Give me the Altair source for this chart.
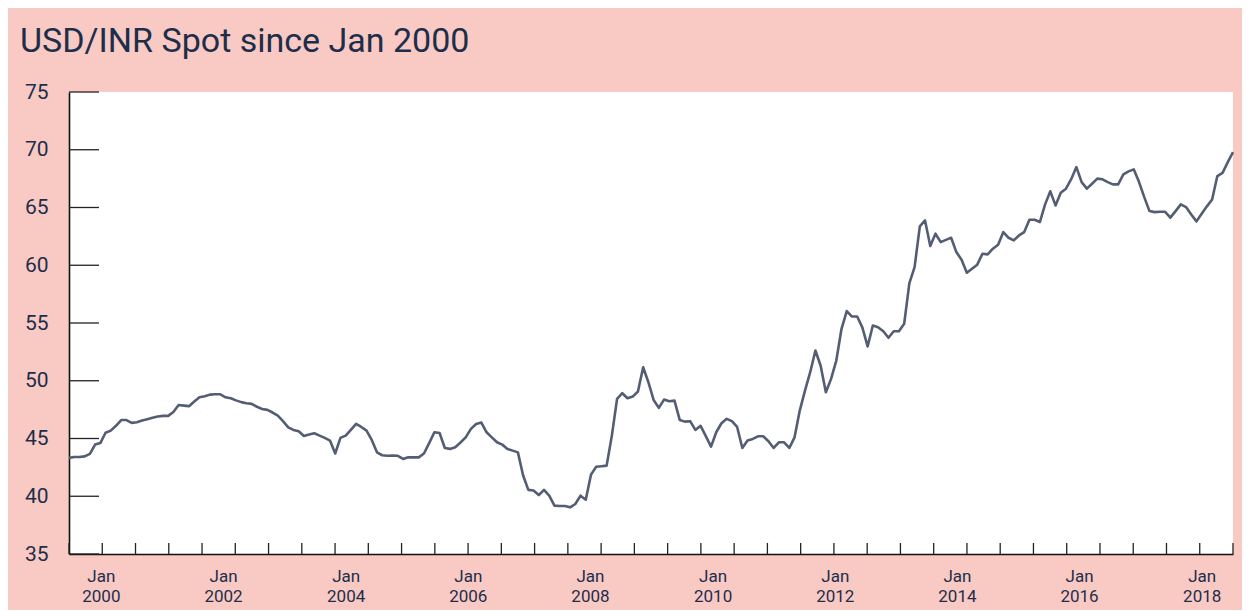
import altair as alt
import pandas as pd

# Monthly USD/INR spot, Jan 2000 .. Aug 2018
usd_inr = [
    43.32, 43.40, 43.40, 43.45, 43.67, 44.47, 44.60, 45.50, 45.68, 46.10, 46.60, 46.60,
    46.35, 46.40, 46.55, 46.67, 46.80, 46.90, 46.96, 46.96, 47.30, 47.90, 47.85, 47.80,
    48.20, 48.57, 48.65, 48.80, 48.83, 48.83, 48.57, 48.48, 48.30, 48.15, 48.05, 48.00,
    47.75, 47.56, 47.48, 47.25, 46.98, 46.50, 45.97, 45.74, 45.62, 45.22, 45.35, 45.45,
    45.25, 45.05, 44.82, 43.70, 45.05, 45.25, 45.75, 46.26, 46.00, 45.68, 44.88, 43.80,
    43.55, 43.50, 43.52, 43.50, 43.23, 43.37, 43.37, 43.37, 43.70, 44.60, 45.54, 45.48,
    44.18, 44.10, 44.24, 44.65, 45.10, 45.83, 46.26, 46.38, 45.54, 45.10, 44.67, 44.47,
    44.10, 43.95, 43.80, 41.80, 40.55, 40.50, 40.10, 40.55, 40.05, 39.19, 39.15, 39.15,
    39.04, 39.33, 40.05, 39.70, 41.87, 42.56, 42.60, 42.65, 45.25, 48.43, 48.92, 48.48,
    48.63, 49.07, 51.17, 49.87, 48.34, 47.65, 48.37, 48.23, 48.28, 46.61, 46.46, 46.50,
    45.74, 46.10, 45.20, 44.30, 45.54, 46.32, 46.70, 46.50, 46.00, 44.18, 44.82, 44.96,
    45.19, 45.19, 44.76, 44.18, 44.67, 44.67, 44.18, 45.10, 47.42, 49.15, 50.74, 52.62,
    51.30, 49.00, 50.16, 51.75, 54.50, 56.03, 55.56, 55.56, 54.60, 52.97, 54.78, 54.64,
    54.29, 53.72, 54.29, 54.29, 54.93, 58.45, 59.84, 63.36, 63.88, 61.66, 62.73, 62.00,
    62.20, 62.38, 61.14, 60.48, 59.35, 59.70, 60.05, 61.00, 60.94, 61.43, 61.78, 62.87,
    62.38, 62.15, 62.58, 62.87, 63.94, 63.94, 63.74, 65.27, 66.40, 65.18, 66.28, 66.63,
    67.45, 68.50, 67.20, 66.63, 67.06, 67.50, 67.44, 67.20, 67.00, 67.00, 67.87, 68.13,
    68.30, 67.20, 65.90, 64.69, 64.60, 64.63, 64.63, 64.12, 64.69, 65.27, 65.04, 64.40,
    63.80, 64.46, 65.10, 65.70, 67.72, 68.00, 68.93, 69.80,
]
month_index = list(range(len(usd_inr)))

title_text = "USD/INR Spot since Jan 2000"
y_ticks = [35, 40, 45, 50, 55, 60, 65, 70, 75]
label_years = ["2000", "2002", "2004", "2006", "2008", "2010", "2012", "2014", "2016", "2018"]
label_pos = [6.2, 29.6, 53.1, 76.5, 99.9, 123.4, 146.8, 170.2, 193.6, 217.1]
n_tick_intervals = 35

W, H = 1164, 462
PINK = "#f9c9c4"
TEXT = "#1d2e4a"
LINE = "#535d73"
AX = "#111111"

last = month_index[-1]
x_scale = alt.Scale(domain=[0, last], nice=False, zero=False)
y_scale = alt.Scale(domain=[35, 75], nice=False, zero=False)

df = pd.DataFrame({"m": month_index, "v": usd_inr})
tick_df = pd.DataFrame({"p": [i * last / n_tick_intervals for i in range(n_tick_intervals + 1)]})
ytick_df = pd.DataFrame({"v": y_ticks})
lab_df = pd.DataFrame({"p": label_pos, "t": ["Jan\n" + y for y in label_years]})
title_df = pd.DataFrame({"t": [title_text]})

line = alt.Chart(df).mark_line(color=LINE, strokeWidth=2.6, strokeJoin="round").encode(
    x=alt.X("m:Q", scale=x_scale,
            axis=alt.Axis(labels=False, ticks=False, grid=False, domain=True,
                          domainColor=AX, domainWidth=1.6, title="")),
    y=alt.Y("v:Q", scale=y_scale,
            axis=alt.Axis(values=y_ticks, ticks=False, grid=False, domain=True,
                          domainColor=AX, domainWidth=1.6, labelFontSize=21,
                          labelFont="Roboto", labelColor=TEXT, labelPadding=21,
                          title="")),
)

yticks = alt.Chart(ytick_df).mark_rule(color="#222222", strokeWidth=1.3).encode(
    y=alt.Y("v:Q", scale=y_scale), x=alt.value(0), x2=alt.value(30)
)

xticks = alt.Chart(tick_df).mark_rule(color="#222222", strokeWidth=1.3).encode(
    x=alt.X("p:Q", scale=x_scale), y=alt.value(H - 11), y2=alt.value(H)
)

labels = alt.Chart(lab_df).mark_text(
    lineBreak="\n", lineHeight=19.5, baseline="alphabetic", align="center",
    fontSize=17, font="Roboto", color=TEXT
).encode(x=alt.X("p:Q", scale=x_scale), y=alt.value(H + 28), text="t:N")

title = alt.Chart(title_df).mark_text(
    align="left", baseline="alphabetic", fontSize=34, font="Roboto", color=TEXT
).encode(x=alt.value(-49), y=alt.value(-40), text="t:N")

chart = alt.layer(line, yticks, xticks, labels, title).properties(
    width=W, height=H,
    autosize=alt.AutoSizeParams(type="none"),
    padding={"left": 61, "top": 84, "right": 9, "bottom": 56},
    background=PINK,
).configure_view(fill="white", strokeWidth=0)

chart.save("out.html", embed_options={"renderer": "svg", "actions": False})
